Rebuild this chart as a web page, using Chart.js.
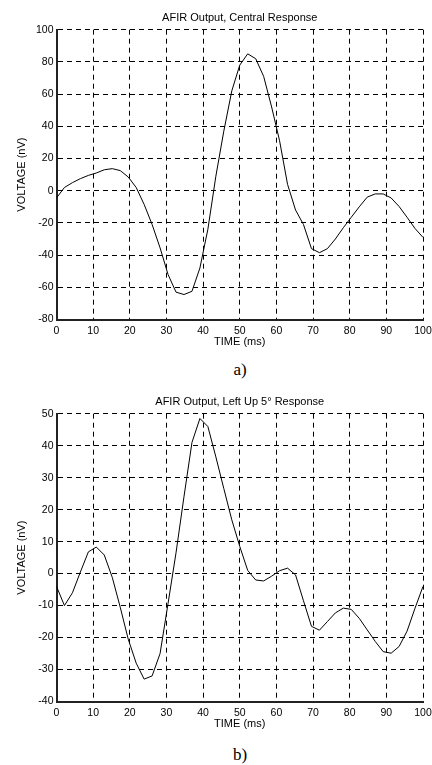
<!DOCTYPE html>
<html>
<head>
<meta charset="utf-8">
<title>AFIR Output</title>
<script src="https://cdn.jsdelivr.net/npm/chart.js@4.4.1/dist/chart.umd.min.js"></script>
<style>
  html, body { margin: 0; padding: 0; background: #fff; }
  body { width: 432px; height: 765px; position: relative; overflow: hidden; }
  .plot { position: absolute; left: 0; width: 432px; }
  .caption { position: absolute; left: 0; width: 480px; text-align: center;
             font-family: "Liberation Serif", "Times New Roman", serif; font-size: 17px; color: #000; }
</style>
</head>
<body>
<div class="plot" style="top:0; height:350px"><canvas id="chartCentral"></canvas></div>
<div class="caption" style="top:360px">a)</div>
<div class="plot" style="top:384px; height:348px"><canvas id="chartLeftUp"></canvas></div>
<div class="caption" style="top:745px">b)</div>

<script>
// sample times (ms), one every ~2.17 ms
var timeMs = [0, 2.17, 4.35, 6.52, 8.70, 10.87, 13.04, 15.22, 17.39, 19.57,
              21.74, 23.91, 26.09, 28.26, 30.43, 32.61, 34.78, 36.96, 39.13, 41.30,
              43.48, 45.65, 47.83, 50.00, 52.17, 54.35, 56.52, 58.70, 60.87, 63.04,
              65.22, 67.39, 69.57, 71.74, 73.91, 76.09, 78.26, 80.43, 82.61, 84.78,
              86.96, 89.13, 91.30, 93.48, 95.65, 97.83, 100];

// a) central response, nV
var centralNv = [-4.5, 2, 5, 7.5, 9.5, 11, 13, 13.7, 12.5, 8.5,
                 2, -8.5, -21, -35.5, -52, -63, -64.5, -62.5, -48, -24,
                 9, 37, 62, 78, 85, 82, 71, 52, 31, 4,
                 -12, -21, -36, -38.5, -36, -30, -23, -16.5, -10, -4,
                 -2, -2, -4.5, -9.8, -16.5, -23.5, -29];

// b) left up 5 deg response, nV
var leftUpNv = [-4, -10, -6, 0.5, 6.8, 8.3, 5.8, -1.2, -10.5, -20.5,
                -28, -33, -32, -25, -9.4, 6.5, 24, 41, 48.5, 46,
                36.5, 26.6, 16.8, 8.5, 1, -2, -2.3, -0.8, 0.9, 1.7,
                -0.4, -8.5, -16.5, -17.7, -15, -12.3, -10.8, -11.2, -14, -17.6,
                -21.2, -24.4, -24.9, -22.8, -18, -10.8, -4];

var timeTicks = [0, 10, 20, 30, 40, 50, 60, 70, 80, 90, 100];

var FONT = '"Liberation Sans", Arial, Helvetica, sans-serif';

function makePlot(canvasId, title, values, yMin, yMax, yStep) {
  var points = [];
  for (var i = 0; i < timeMs.length; i++) {
    points.push({ x: timeMs[i], y: values[i] });
  }

  return new Chart(document.getElementById(canvasId), {
    type: 'line',
    data: {
      datasets: [{
        data: points,
        borderColor: '#000',
        borderWidth: 1,
        pointRadius: 0,
        tension: 0,
        fill: false
      }]
    },
    options: {
      responsive: true,
      maintainAspectRatio: false,
      animation: false,
      layout: { padding: { left: 0, right: 9, top: 0, bottom: 0 } },
      plugins: {
        legend: { display: false },
        tooltip: { enabled: false },
        title: {
          display: true,
          text: title,
          fullSize: false,
          color: '#000',
          font: { family: FONT, size: 11, weight: 'normal' },
          padding: { top: 11.5, bottom: 5 }
        }
      },
      scales: {
        x: {
          type: 'linear',
          min: 0,
          max: 100,
          afterBuildTicks: function (scale) {
            scale.ticks = timeTicks.map(function (v) { return { value: v }; });
          },
          afterFit: function (scale) {
            // keep the plot edge where it is; "100" may hang into the margin
            scale.height = 30.5;
            scale.paddingLeft = 0;
            scale.paddingRight = 0;
          },
          grid: { color: '#000', lineWidth: 1, drawTicks: false },
          border: { display: true, color: '#222', width: 2, dash: [5, 4] },
          ticks: { color: '#000', padding: 5, maxRotation: 0, autoSkip: false,
                   font: { family: FONT, size: 10.5 } },
          title: { display: true, text: 'TIME (ms)', color: '#000',
                   font: { family: FONT, size: 11 }, padding: { top: 0, bottom: 1 } }
        },
        y: {
          min: yMin,
          max: yMax,
          afterFit: function (scale) { scale.width = 56.5; },
          grid: { color: '#000', lineWidth: 1, drawTicks: false },
          border: { display: true, color: '#222', width: 2, dash: [5, 4] },
          ticks: { stepSize: yStep, color: '#000', padding: 3,
                   font: { family: FONT, size: 10.5 } },
          title: { display: true, text: 'VOLTAGE (nV)', color: '#000',
                   font: { family: FONT, size: 11 }, padding: { top: 15, bottom: 0 } }
        }
      }
    }
  });
}

makePlot('chartCentral', 'AFIR Output, Central Response', centralNv, -80, 100, 20);
makePlot('chartLeftUp', 'AFIR Output, Left Up 5\u00B0 Response', leftUpNv, -40, 50, 10);
</script>
</body>
</html>
